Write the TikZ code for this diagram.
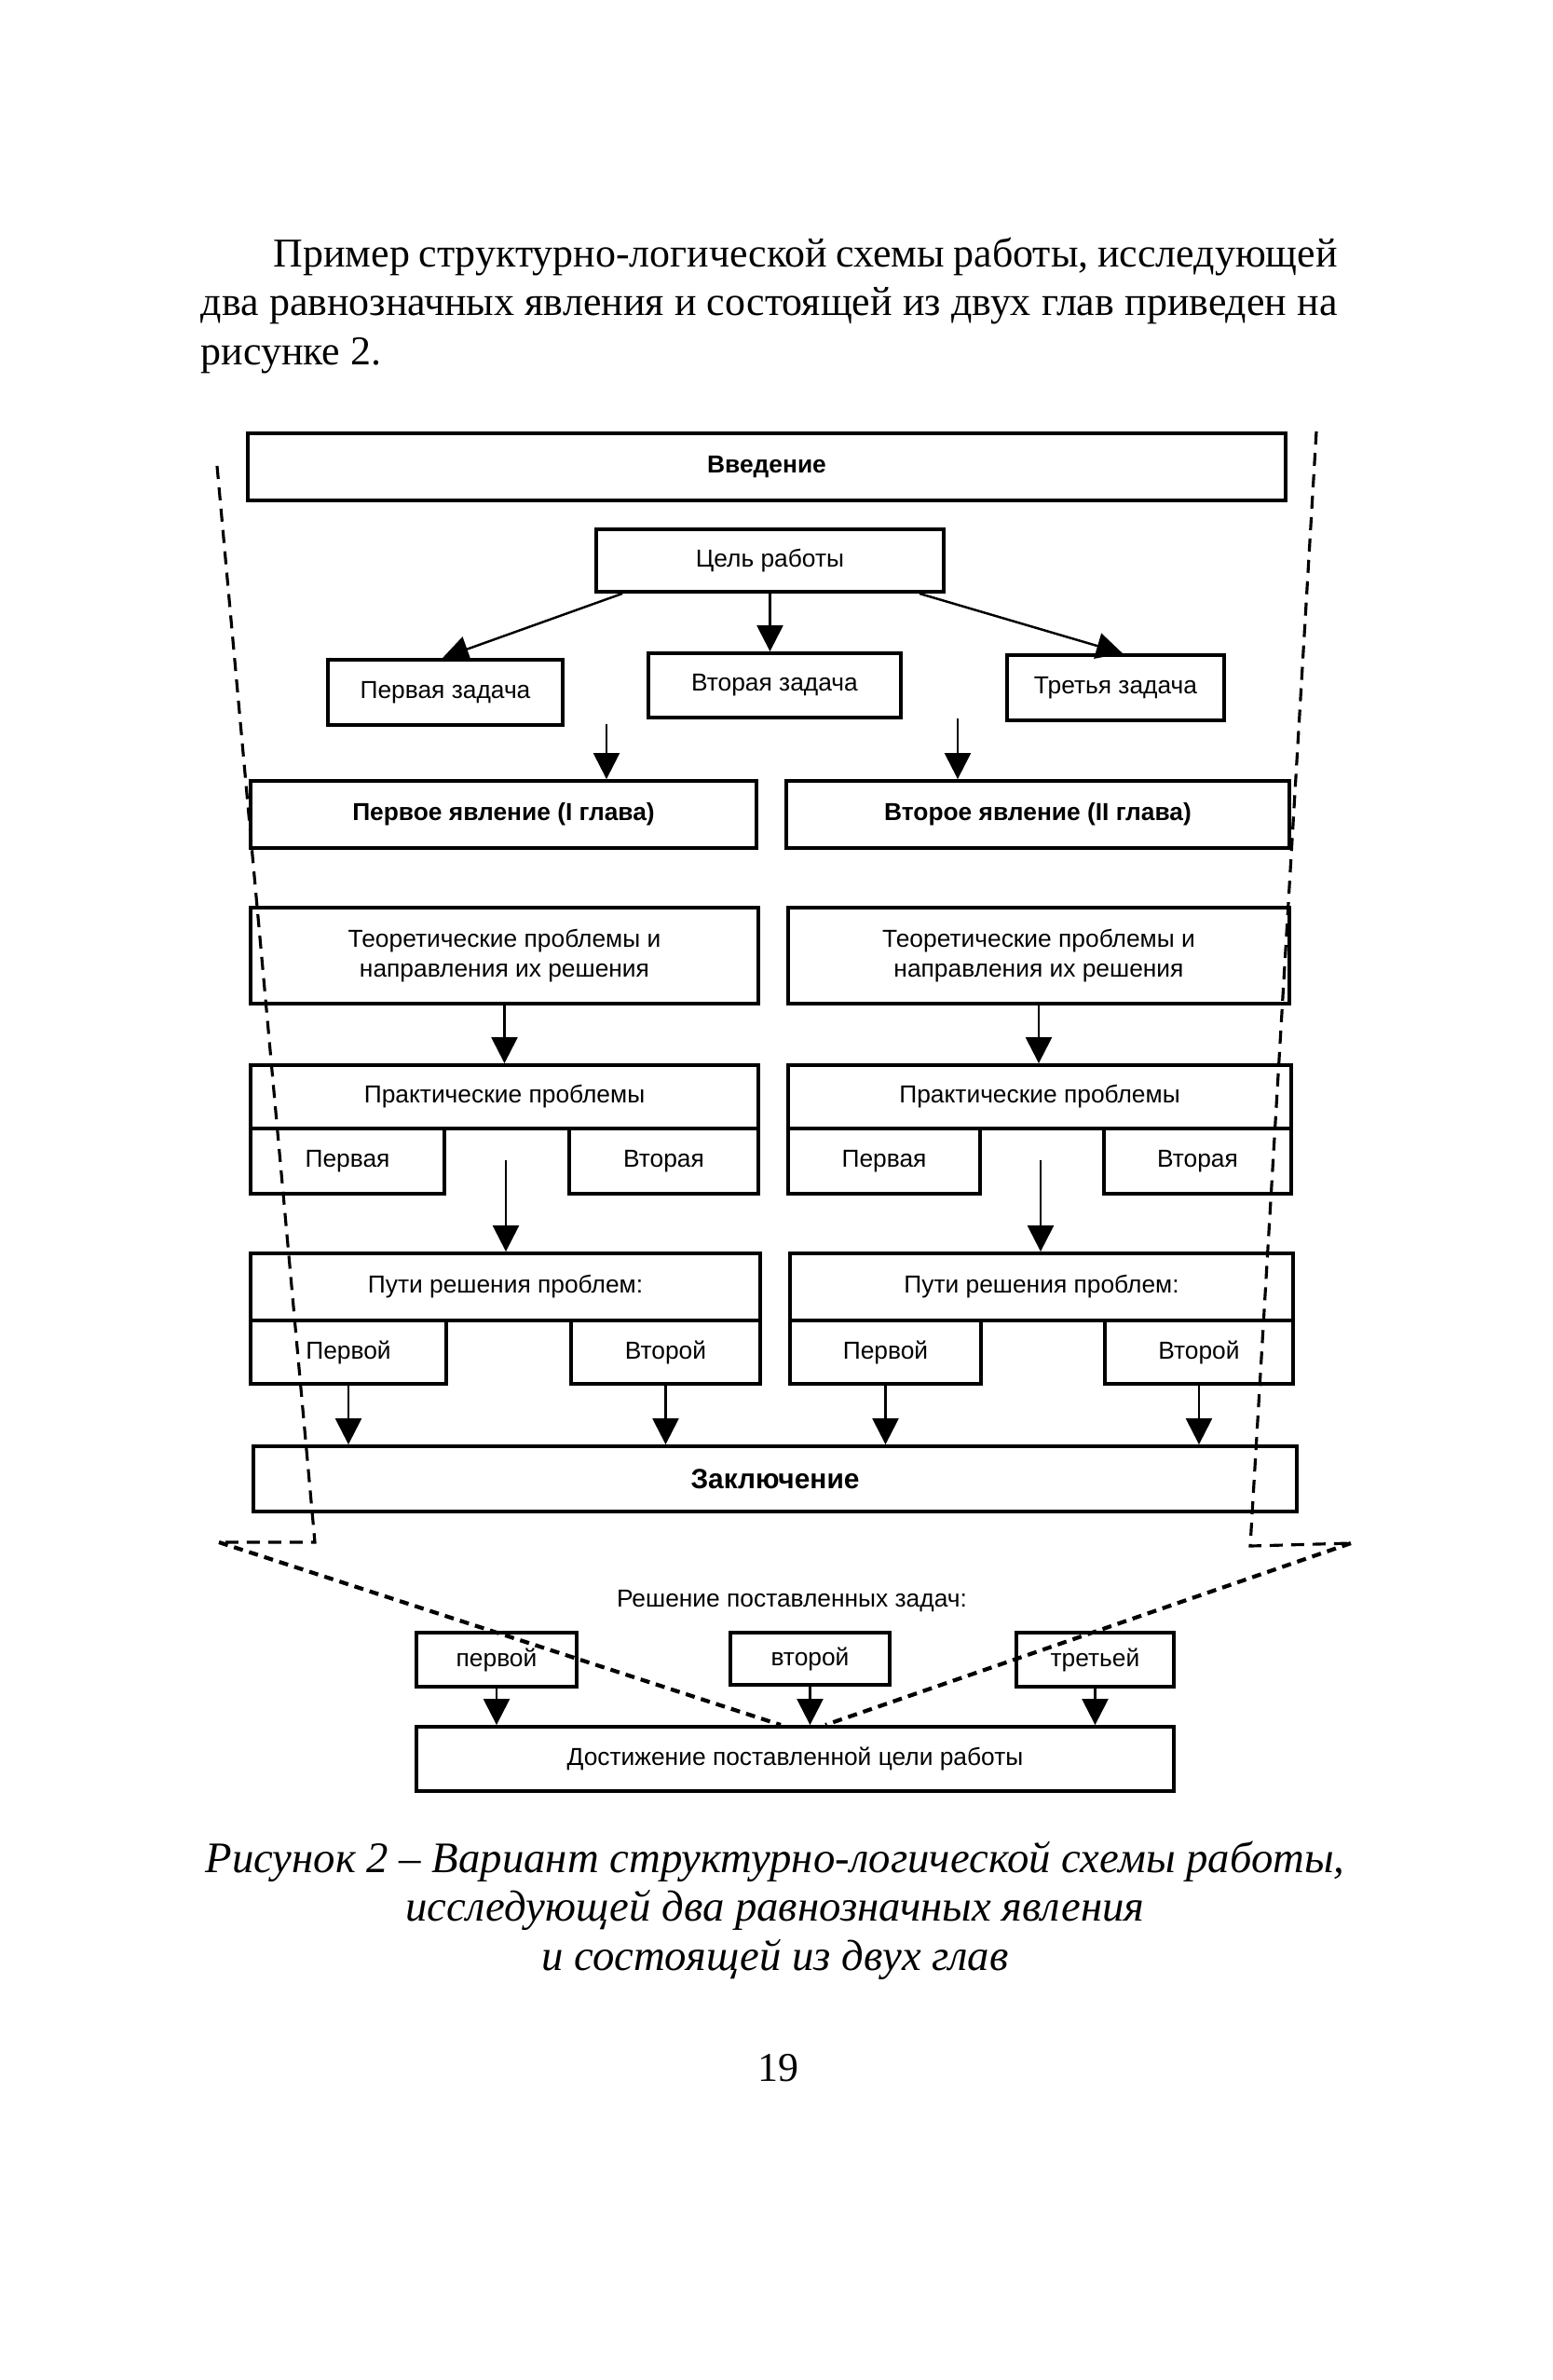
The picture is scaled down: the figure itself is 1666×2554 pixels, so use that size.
\documentclass[tikz,border=0pt]{standalone}
\usepackage{fontspec}
\setmainfont{Liberation Serif}
\setsansfont{Liberation Sans}
\usetikzlibrary{arrows.meta,calc}
\begin{document}
\begin{tikzpicture}[x=0.1mm,y=-0.1mm,
  box/.style={draw, line width=1.1pt, inner sep=0pt, align=center,
    font=\sffamily\fontsize{7.5}{9}\selectfont},
  arr/.style={line width=0.7pt, -{Triangle[length=2.8mm,width=2.8mm]}},
  framedash/.style={line width=0.9pt, dash pattern=on 1.4mm off 0.9mm},
  lowdash/.style={line width=1.2pt, dash pattern=on 1mm off 0.7mm},
  body/.style={inner sep=0pt, font=\fontsize{12.5}{15}\selectfont},
  capt/.style={inner sep=0pt, font=\itshape\fontsize{13.3}{15}\selectfont}]
\useasboundingbox (0,0) rectangle (1666,2554);
\fill[white] (0,0) rectangle (1666,2554);

% paragraph
\node[body, anchor=base west] (p1) at (293,286) {\makebox[114.2mm][s]{Пример структурно-логической схемы работы, исследующей}};
\node[body, anchor=base west] (p2) at (215,338) {\makebox[122mm][s]{два равнозначных явления и состоящей из двух глав приведен на}};
\node[body, anchor=base west] (p3) at (215,391) {рисунке 2.};

% boxes
\node[box, minimum width=111.4mm, minimum height=7.2mm] (vved) at (823,501) {\textbf{Введение}};
\node[box, minimum width=37.3mm, minimum height=6.7mm] (goal) at (826.5,601.5) {Цель работы};
\node[box, minimum width=25.2mm, minimum height=7.0mm] (t1) at (478,743) {Первая задача};
\node[box, minimum width=27.1mm, minimum height=6.9mm] (t2) at (831.5,735.5) {Вторая задача};
\node[box, minimum width=23.3mm, minimum height=7.0mm] (t3) at (1197.5,738) {Третья задача};

\node[box, minimum width=54.3mm, minimum height=7.2mm] (ph1) at (540.5,874) {\textbf{Первое явление (I глава)}};
\node[box, minimum width=54.0mm, minimum height=7.2mm] (ph2) at (1114,874) {\textbf{Второе явление (II глава)}};

\node[box, minimum width=54.5mm, minimum height=10.3mm] (th1) at (541.5,1025.5) {Теоретические проблемы и\\направления их решения};
\node[box, minimum width=53.8mm, minimum height=10.3mm] (th2) at (1115,1025.5) {Теоретические проблемы и\\направления их решения};

\node[box, minimum width=54.5mm, minimum height=6.8mm] (pr1) at (541.5,1177) {Практические проблемы};
\node[box, minimum width=54.0mm, minimum height=6.8mm] (pr2) at (1116,1177) {Практические проблемы};
\node[box, minimum width=20.8mm, minimum height=7.0mm] (pr1a) at (373,1246) {Первая};
\node[box, minimum width=20.3mm, minimum height=7.0mm] (pr1b) at (712.5,1246) {Вторая};
\node[box, minimum width=20.6mm, minimum height=7.0mm] (pr2a) at (949,1246) {Первая};
\node[box, minimum width=20.1mm, minimum height=7.0mm] (pr2b) at (1285.5,1246) {Вторая};

\node[box, minimum width=54.7mm, minimum height=7.2mm] (pw1) at (542.5,1381) {Пути решения проблем:};
\node[box, minimum width=54.0mm, minimum height=7.2mm] (pw2) at (1118,1381) {Пути решения проблем:};
\node[box, minimum width=21.0mm, minimum height=6.8mm] (pw1a) at (374,1451) {Первой};
\node[box, minimum width=20.3mm, minimum height=6.8mm] (pw1b) at (714.5,1451) {Второй};
\node[box, minimum width=20.5mm, minimum height=6.8mm] (pw2a) at (950.5,1451) {Первой};
\node[box, minimum width=20.2mm, minimum height=6.8mm] (pw2b) at (1287,1451) {Второй};

\node[box, minimum width=112.0mm, minimum height=7.0mm, font=\sffamily\bfseries\fontsize{8.5}{10}\selectfont] (concl) at (832,1587) {Заключение};

\node[inner sep=0pt, font=\sffamily\fontsize{7.5}{9}\selectfont] (sol) at (850,1718) {Решение поставленных задач:};
\node[box, minimum width=17.2mm, minimum height=5.8mm] (s1) at (533,1781) {первой};
\node[box, minimum width=17.1mm, minimum height=5.6mm] (s2) at (869.5,1780) {второй};
\node[box, minimum width=16.9mm, minimum height=5.8mm] (s3) at (1175.5,1781) {третьей};
\node[box, minimum width=81.3mm, minimum height=6.9mm] (ach) at (853.5,1887.5) {Достижение поставленной цели работы};

% arrows
\draw[arr] ([xshift=3mm]goal.south west) -- ([xshift=-0.3mm]t1.north);
\draw[arr] (goal.south) -- (goal.south |- t2.north);
\draw[arr] ([xshift=-2.8mm]goal.south east) -- ([xshift=0.75mm]t3.north);

\coordinate (f1) at (651,777);
\coordinate (f2) at (1028,771);
\draw[arr] (f1) -- (f1 |- ph1.north);
\draw[arr] (f2) -- (f2 |- ph2.north);

\draw[arr] (th1.south) -- (th1.south |- pr1.north);
\draw[arr] (th2.south) -- (th2.south |- pr2.north);

\coordinate (f3) at (543,1245);
\coordinate (f4) at (1117,1245);
\draw[arr] (f3) -- (f3 |- pw1.north);
\draw[arr] (f4) -- (f4 |- pw2.north);

\foreach \n in {pw1a,pw1b,pw2a,pw2b}
  \draw[arr] (\n.south) -- (\n.south |- concl.north);
\foreach \n in {s1,s2,s3}
  \draw[arr] (\n.south) -- (\n.south |- ach.north);

% dashed frame
\coordinate (dl1) at (233,500);
\coordinate (dl2) at (338,1655);
\coordinate (dl3) at (235,1655);
\coordinate (dm1) at (838,1851);
\coordinate (dr1) at (1413,463);
\coordinate (dr2) at (1342,1659);
\coordinate (dr3) at (1450,1656);
\coordinate (dm2) at (886,1851);
\draw[framedash] (dl1) -- (dl2) -- (dl3);
\draw[framedash] (dr1) -- (dr2) -- (dr3);
\draw[lowdash] (dl3) -- (dm1);
\draw[lowdash] (dr3) -- (dm2);

% caption
\node[capt, anchor=base] (c1) at (832,2009) {Рисунок 2 – Вариант структурно-логической схемы работы,};
\node[capt, anchor=base] (c2) at (832,2061) {исследующей два равнозначных явления};
\node[capt, anchor=base] (c3) at (832,2114) {и состоящей из двух глав};
\node[body, anchor=base] (pn) at (835,2233) {19};
\end{tikzpicture}
\end{document}
